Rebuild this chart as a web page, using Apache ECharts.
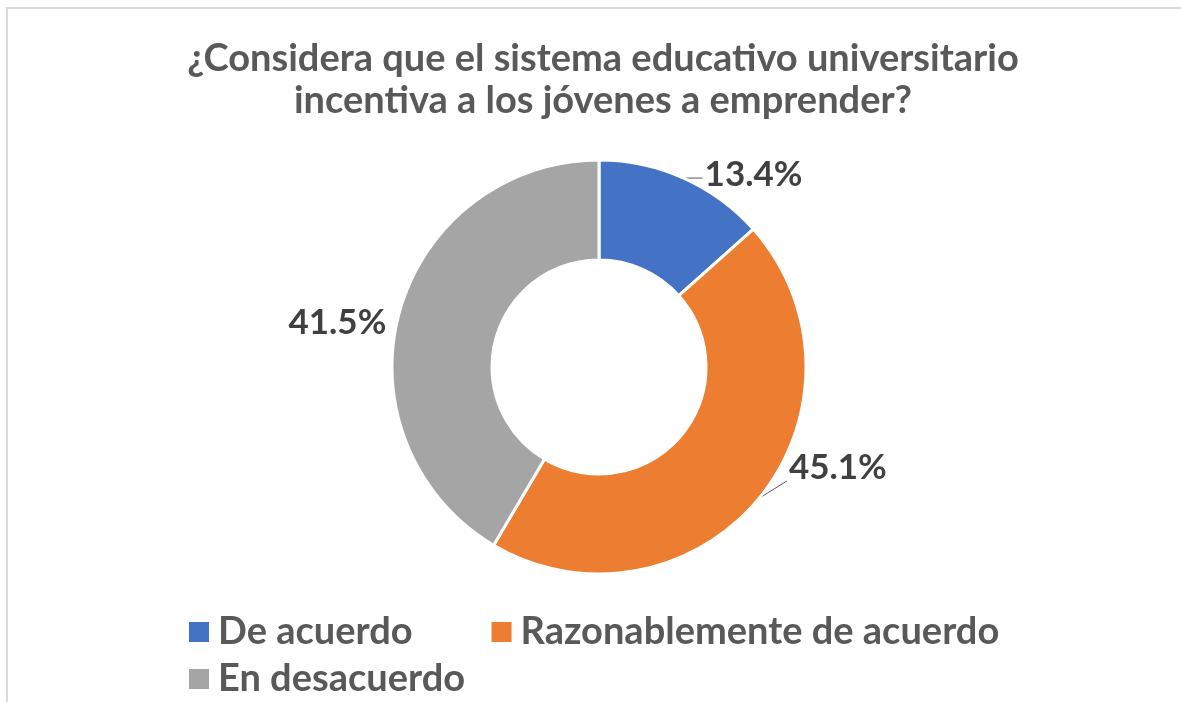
<!DOCTYPE html>
<html>
<head>
<meta charset="utf-8">
<script src="https://cdn.jsdelivr.net/npm/echarts@6/dist/echarts.min.js"></script>
<style>
  html, body { margin: 0; padding: 0; background: #fff; overflow: hidden; }
  #frame { position: absolute; left: 6px; top: 7px; right: 0; bottom: 0; border-top: 2px solid #d9d9d9; border-left: 2px solid #d9d9d9; }
  #chart { position: absolute; left: 0; top: 0; width: 1181px; height: 702px; }
</style>
</head>
<body>
<div id="frame"></div>
<div id="chart"></div>
<script>
  const TITLE = '¿Considera que el sistema educativo universitario\nincentiva a los jóvenes a emprender?';
  const CATEGORIES = ['De acuerdo', 'Razonablemente de acuerdo', 'En desacuerdo'];
  const VALUES = [13.4, 45.1, 41.5];
  const COLORS = ['#4472C4', '#ED7D31', '#A5A5A5'];

  // label nudges so the labels sit where the original put them
  const LABEL_SHIFT = [[0, -3], [9, -31], [0, 10]];

  const FONT = "Lato, 'Open Sans', sans-serif";

  const chart = echarts.init(document.getElementById('chart'), null, { renderer: 'canvas' });

  chart.setOption({
    animation: false,
    backgroundColor: 'transparent',
    color: COLORS,
    title: {
      text: TITLE,
      left: 598,
      top: 33,
      textAlign: 'center',
      textStyle: { fontFamily: FONT, fontSize: 38, fontWeight: 'bold', color: '#595959', lineHeight: 42 },
    },
    legend: [
      {
        data: CATEGORIES.slice(0, 2),
        left: 182, top: 608,
        itemWidth: 22, itemHeight: 22, itemGap: 77,
        icon: 'rect',
        textStyle: { fontFamily: FONT, fontSize: 38, fontWeight: 'bold', color: '#595959', padding: [0, 0, 0, 3] },
      },
      {
        data: CATEGORIES.slice(2),
        left: 182, top: 655,
        itemWidth: 22, itemHeight: 22,
        icon: 'rect',
        textStyle: { fontFamily: FONT, fontSize: 38, fontWeight: 'bold', color: '#595959', padding: [0, 0, 0, 3] },
      },
    ],
    series: [{
      type: 'pie',
      center: [599, 367],
      radius: [107, 207],
      startAngle: 90,
      clockwise: true,
      avoidLabelOverlap: false,
      itemStyle: { borderColor: '#fff', borderWidth: 3 },
      label: {
        show: true,
        position: 'outside',
        formatter: (p) => p.value.toFixed(1) + '%',
        fontFamily: FONT, fontSize: 35, fontWeight: 'bold', color: '#404040',
        distanceToLabelLine: 2,
      },
      labelLine: { show: true, length: 0, length2: 19, lineStyle: { color: '#595959', width: 1 } },
      labelLayout: (params) => {
        const s = LABEL_SHIFT[params.dataIndex];
        const out = { dx: s[0], dy: s[1] };
        const pts = params.labelLinePoints;
        if (pts && params.dataIndex === 1) {
          // run the leader from the ring edge up to the label's lower left corner
          const r = params.labelRect;
          out.labelLinePoints = [pts[0], [r.x + s[0] - 2, r.y + r.height + s[1] - 4]];
        } else if (pts && params.dataIndex === 0) {
          out.labelLinePoints = [pts[0], [pts[2][0], pts[0][1]]];
        }
        return out;
      },
      data: CATEGORIES.map((name, i) => {
        const d = { name, value: VALUES[i] };
        if (i === 2) d.labelLine = { show: false, length2: 11 };
        return d;
      }),
    }],
  });
</script>
</body>
</html>
